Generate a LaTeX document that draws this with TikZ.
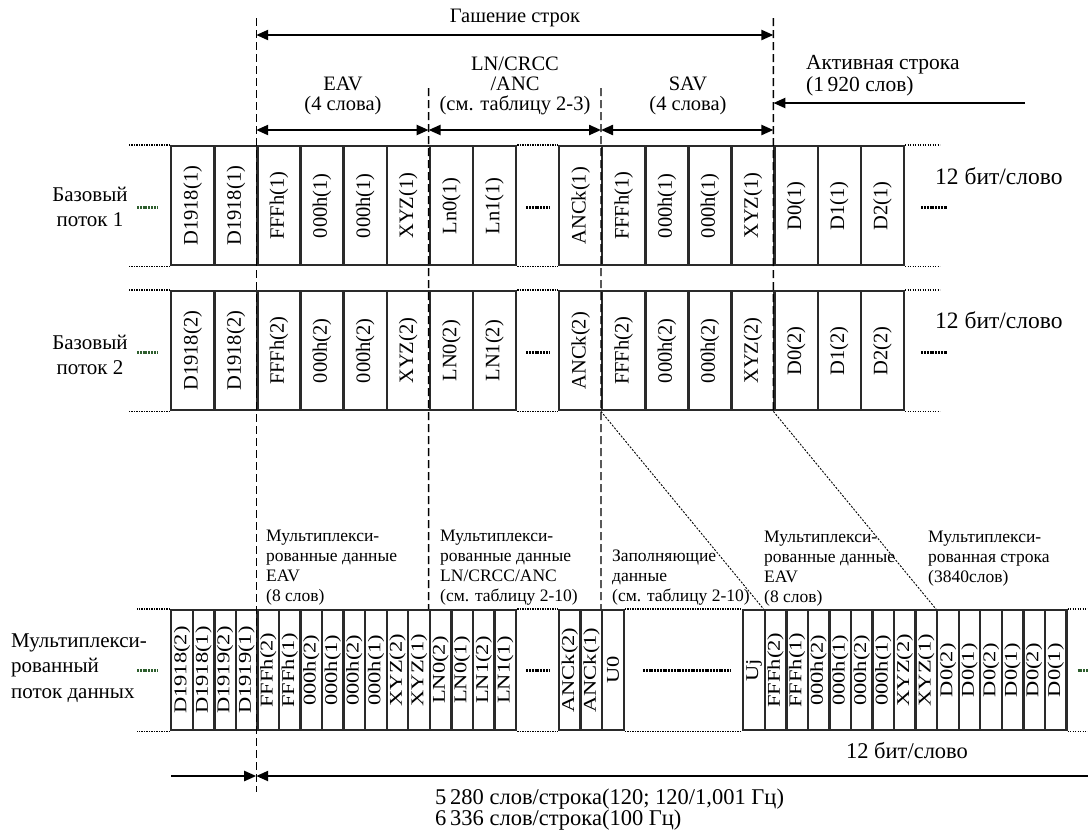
\documentclass[tikz,border=0pt]{standalone}
\usepackage{fontspec}
\setmainfont{Liberation Serif}
\usepackage{graphicx}
\usetikzlibrary{arrows.meta}

\newcommand\cellfont{\fontsize{20.5}{22}\selectfont}
\newcommand\muxfont{\fontsize{22.5}{24}\selectfont}
\newcommand\lblfont{\fontsize{21}{25.5}\selectfont}
\newcommand\topfont{\fontsize{20.5}{20}\selectfont}
\newcommand\notefont{\fontsize{17.5}{20}\selectfont}
\newcommand\bitfont{\fontsize{22.5}{24}\selectfont}
\newcommand\vtext[1]{\rotatebox{90}{#1}}
\newcommand\mtext[1]{\scalebox{0.8}[1]{\rotatebox{90}{#1}}}

\definecolor{cellline}{HTML}{2A2A2A}
\definecolor{stubgreen}{HTML}{2E5E2E}

\begin{document}
\begin{tikzpicture}[x=1pt, y=-1pt,
  wordbox/.style={draw=cellline, line width=2.4pt, minimum width=43.1pt, minimum height=119pt, inner sep=0pt, anchor=north west, font=\cellfont},
  halfbox/.style={wordbox, minimum width=21.55pt, minimum height=120pt, font=\muxfont},
  txt/.style={inner sep=0pt, font=\lblfont},
  note/.style={inner sep=0pt, anchor=north west, align=left, font=\notefont},
  guideline/.style={line width=1.4pt, dash pattern=on 8pt off 4pt},
  extline/.style={line width=1.3pt, dash pattern=on 1.3pt off 1.2pt},
  diagline/.style={line width=0.9pt, dash pattern=on 2pt off 1.5pt},
  stubline/.style={line width=3pt, dash pattern=on 2pt off 0.8pt},
  twoway/.style={{Triangle[length=12pt,width=10pt]}-{Triangle[length=12pt,width=10pt]}, line width=2.2pt},
  oneway/.style={-{Triangle[length=12pt,width=10pt]}, line width=2.2pt}
]
\useasboundingbox (0,0) rectangle (1088,831);

% Базовый поток 1
\foreach \t [count=\i from 0] in {D1918(1),D1918(1),FFFh(1),000h(1),000h(1),XYZ(1),Ln0(1),Ln1(1)}
  \node[wordbox] (pa\i) at ({170+\i*43.1},145) {\vtext{\t}};
\foreach \t [count=\i from 9] in {ANCk(1),FFFh(1),000h(1),000h(1),XYZ(1),D0(1),D1(1),D2(1)}
  \node[wordbox] (pa\i) at ({170+\i*43.1},145) {\vtext{\t}};

% Базовый поток 2
\foreach \t [count=\i from 0] in {D1918(2),D1918(2),FFFh(2),000h(2),000h(2),XYZ(2),LN0(2),LN1(2)}
  \node[wordbox] (pb\i) at ({170+\i*43.1},290) {\vtext{\t}};
\foreach \t [count=\i from 9] in {ANCk(2),FFFh(2),000h(2),000h(2),XYZ(2),D0(2),D1(2),D2(2)}
  \node[wordbox] (pb\i) at ({170+\i*43.1},290) {\vtext{\t}};

% мультиплексированный поток
\foreach \t [count=\i from 0] in {D1918(2),D1918(1),D1919(2),D1919(1),FFFh(2),FFFh(1),000h(2),000h(1),000h(2),000h(1),XYZ(2),XYZ(1),LN0(2),LN0(1),LN1(2),LN1(1)}
  \node[halfbox] (ma\i) at ({170+\i*21.55},609) {\mtext{\t}};
\foreach \t [count=\i from 18] in {ANCk(2),ANCk(1),U0}
  \node[halfbox] (ma\i) at ({170+\i*21.55},609) {\mtext{\t}};
\foreach \t [count=\i from 0] in {Uj,FFFh(2),FFFh(1),000h(2),000h(1),000h(2),000h(1),XYZ(2),XYZ(1),D0(2),D0(1),D0(2),D0(1),D0(2),D0(1)}
  \node[halfbox] (mc\i) at ({742+\i*21.55},609) {\mtext{\t}};

% границы интервалов
\coordinate (gA) at (256.2,18);
\coordinate (gAe) at (256.2,792);
\coordinate (gB) at (428.6,88);
\coordinate (gC) at (601,88);
\coordinate (gD) at (773.4,18);
\draw[guideline] (gA) -- (gAe);
\draw[guideline] (gB) -- (ma12.north west);
\draw[guideline] (gC) -- (ma20.north west);
\draw[guideline] (gD) -- (pb14.south west);
\draw[diagline] (pb10.south west) -- (mc1.north west);
\draw[diagline] (pb14.south west) -- (mc9.north west);

% продолжения строк
\draw[extline] (pa0.north west) -- +(-42,0) (pa0.south west) -- +(-42,0);
\draw[extline] (pa7.north east) -- (pa9.north west) (pa7.south east) -- (pa9.south west);
\draw[extline] (pa16.north east) -- +(35,0) (pa16.south east) -- +(35,0);
\draw[extline] (pb0.north west) -- +(-42,0) (pb0.south west) -- +(-42,0);
\draw[extline] (pb7.north east) -- (pb9.north west) (pb7.south east) -- (pb9.south west);
\draw[extline] (pb16.north east) -- +(35,0) (pb16.south east) -- +(35,0);
\draw[extline] (ma0.north west) -- +(-33,0) (ma0.south west) -- +(-33,0);
\draw[extline] (ma15.north east) -- (ma18.north west) (ma15.south east) -- (ma18.south west);
\draw[extline] (ma20.north east) -- (mc0.north west) (ma20.south east) -- (mc0.south west);
\draw[extline] (mc14.north east) -- +(25,0) (mc14.south east) -- +(25,0);

\draw[stubline, stubgreen] ([xshift=-33pt,yshift=-2pt]pa0.west) -- +(20,0);
\draw[stubline] ([xshift=9pt,yshift=-2pt]pa7.east) -- ([xshift=-9pt,yshift=-2pt]pa9.west);
\draw[stubline] ([xshift=16pt,yshift=-2pt]pa16.east) -- +(26,0);
\draw[stubline, stubgreen] ([xshift=-33pt,yshift=-2pt]pb0.west) -- +(20,0);
\draw[stubline] ([xshift=9pt,yshift=-2pt]pb7.east) -- ([xshift=-9pt,yshift=-2pt]pb9.west);
\draw[stubline] ([xshift=16pt,yshift=-2pt]pb16.east) -- +(26,0);
\draw[stubline, stubgreen] ([xshift=-33pt]ma0.west) -- +(20,0);
\draw[stubline] ([xshift=9pt]ma15.east) -- ([xshift=-9pt]ma18.west);
\draw[stubline] ([xshift=18pt]ma20.east) -- ([xshift=-12pt]mc0.west);
\draw[stubline, stubgreen] ([xshift=10pt]mc14.east) -- +(15,0);

% стрелки
\coordinate (hL) at (256.2,35);
\coordinate (hR) at (773.4,35);
\coordinate (eL) at (256.2,130);
\coordinate (eR) at (428.6,130);
\coordinate (sL) at (601,130);
\coordinate (sR) at (773.4,130);
\coordinate (aS) at (1025,103);
\coordinate (aE) at (773.4,103);
\coordinate (bS) at (171,776);
\coordinate (bM) at (256.2,776);
\coordinate (bE) at (1088,776);
\draw[twoway] (hL) -- (hR);
\draw[twoway] (eL) -- (eR);
\draw[twoway] (eR) -- (sL);
\draw[twoway] (sL) -- (sR);
\draw[oneway] (aS) -- (aE);
\draw[oneway] (bS) -- (bM);
\draw[oneway] (bE) -- (bM);

% подписи
\node[txt, font=\topfont] (hblank) at (515,18) {Гашение строк};
\node[txt, font=\topfont, align=center] (lncrc) at (515,86) {LN/CRCC\\/ANC\\(см. таблицу 2-3)};
\node[txt, font=\topfont, align=center] (eav) at (343,96) {EAV\\(4 слова)};
\node[txt, font=\topfont, align=center] (sav) at (688,96) {SAV\\(4 слова)};
\node[txt, font=\fontsize{21.5}{22}\selectfont, align=left, anchor=west] (active) at (806,76) {Активная строка\\(1\,920 слов)};

\node[txt, align=center] (base1) at (90,207) {Базовый\\поток 1};
\node[txt, align=center] (base2) at (90,355) {Базовый\\поток 2};
\node[txt, align=left, anchor=west] (muxlbl) at (11,668) {Мультиплекси-\\рованный\\поток данных};
\node[txt, font=\fontsize{23.5}{24}\selectfont, anchor=west] (bits1) at (935,176) {12 бит/слово};
\node[txt, font=\fontsize{23.5}{24}\selectfont, anchor=west] (bits2) at (935,320) {12 бит/слово};
\node[txt, font=\bitfont] (bits3) at (907,751) {12 бит/слово};

\node[note] (n1) at (266,530) {Мультиплекси-\\рованные данные\\EAV\\(8 слов)};
\node[note] (n2) at (440,530) {Мультиплекси-\\рованные данные\\LN/CRCC/ANC\\(см. таблицу 2-10)};
\node[note] (n3) at (612,550) {Заполняющие\\данные\\(см. таблицу 2-10)};
\node[note] (n4) at (764,531) {Мультиплекси-\\рованные данные\\EAV\\(8 слов)};
\node[note] (n5) at (928,531) {Мультиплекси-\\рованная строка\\(3840слов)};

\node[txt, font=\fontsize{22.5}{21}\selectfont, align=left, anchor=north west] (rate) at (435,789) {5\,280 слов/строка(120; 120/1,001 Гц)\\6\,336 слов/строка(100 Гц)};
\end{tikzpicture}
\end{document}
